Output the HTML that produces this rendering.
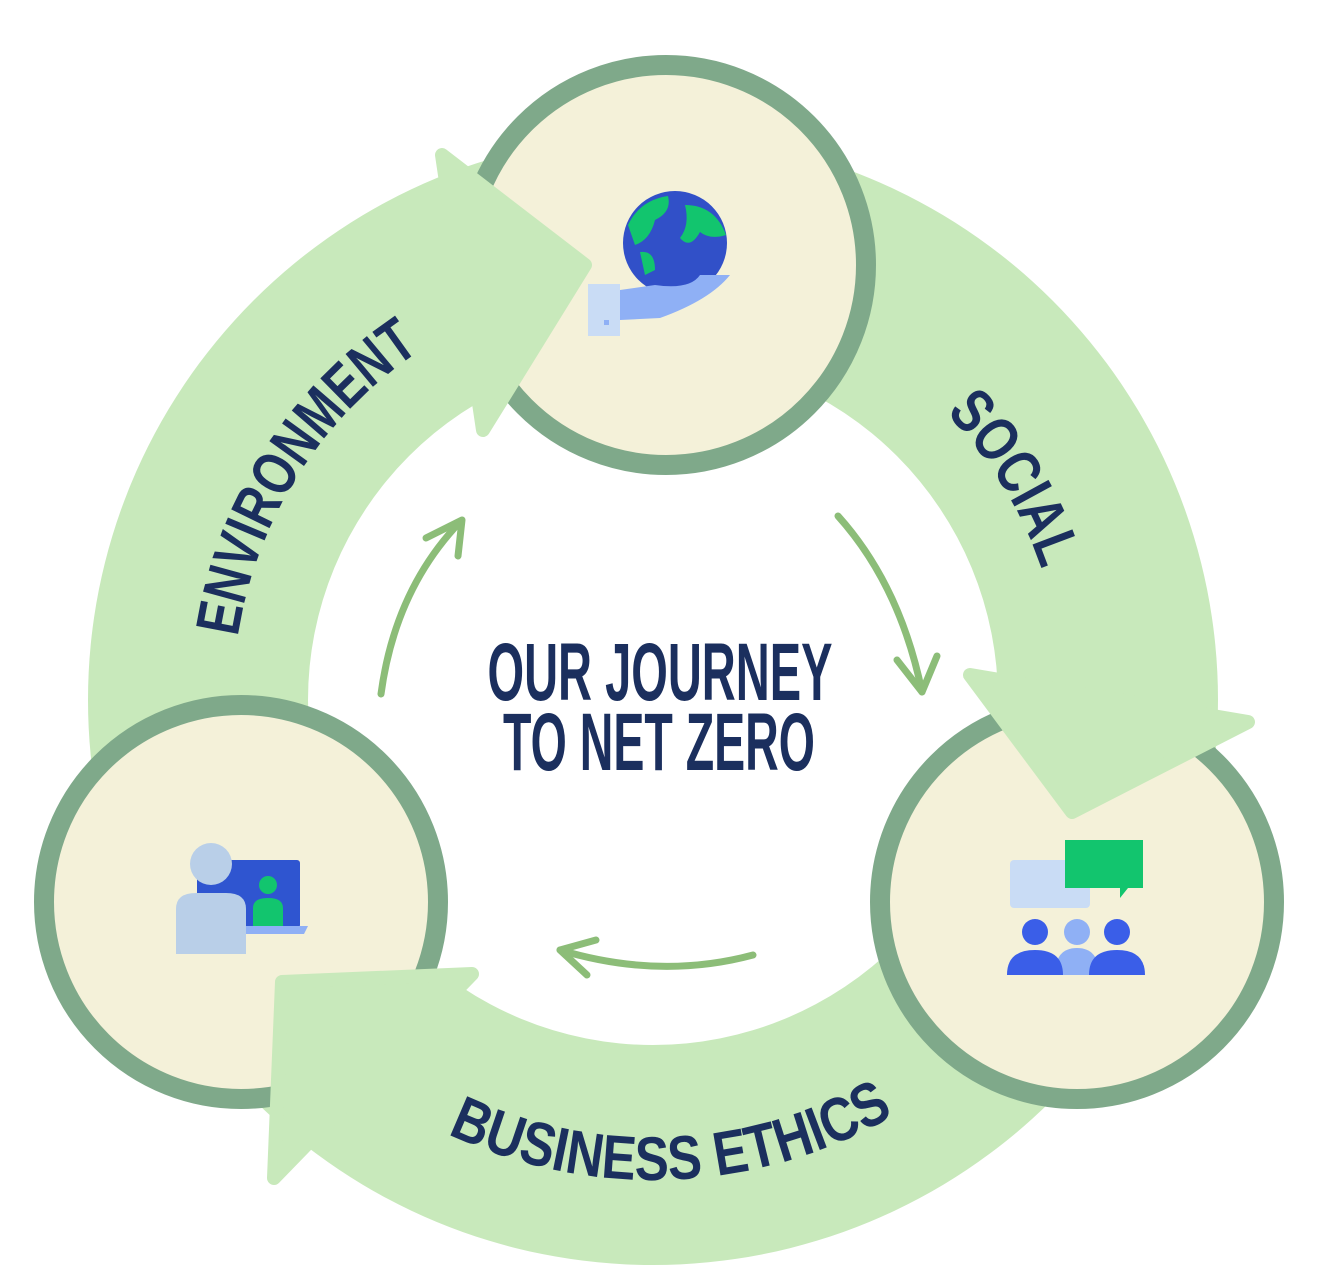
<!DOCTYPE html>
<html><head><meta charset="utf-8"><style>
html,body{margin:0;padding:0;background:#fff;}
svg{display:block;}
.lbl{font-family:"Liberation Sans Narrow","Liberation Sans",sans-serif;font-weight:bold;fill:#1b2f5e;}
</style></head><body>
<svg width="1342" height="1271" viewBox="0 0 1342 1271" xmlns="http://www.w3.org/2000/svg">
<defs>
<path id="envP" d="M289.3,910 A420,420 0 0 1 689.6,281.6"/>
<path id="socP" d="M653,290 A410,410 0 0 1 1018.3,886.1"/>
<path id="busP" d="M237.3,940 A480,480 0 0 0 1068.7,940"/>
</defs>
<path fill="#c8e9bb" fill-rule="evenodd" d="M88,700 A565,565 0 1 0 1218,700 A565,565 0 1 0 88,700 Z M308,700 A345,345 0 1 1 998,700 A345,345 0 1 1 308,700 Z"/>
<circle cx="666" cy="265" r="200" fill="#f4f1d9" stroke="#7fa98a" stroke-width="20"/>
<circle cx="241" cy="902" r="197" fill="#f4f1d9" stroke="#7fa98a" stroke-width="20"/>
<circle cx="1077" cy="902" r="197" fill="#f4f1d9" stroke="#7fa98a" stroke-width="20"/>
<g fill="#c8e9bb" stroke="#c8e9bb" stroke-width="14" stroke-linejoin="round">
<polygon points="442,155 585,265 483,430"/>
<polygon points="970,675 1248,722 1072,812"/>
<polygon points="282,982 472,974 274,1178"/>
</g>
<g fill="none" stroke="#8cbd78" stroke-width="7" stroke-linecap="round" stroke-linejoin="round">
<path d="M381,694 Q395,590 460,522"/>
<path d="M426,538 L462,520 L458,556"/>
<path d="M838,516 Q900,585 922,692"/>
<path d="M897,660 L922,692 L937,656"/>
<path d="M753,955 Q660,980 560,950"/>
<path d="M596,940 L560,950 L587,975"/>
</g>
<text class="lbl" font-size="62"><textPath href="#envP" startOffset="50%" text-anchor="middle" textLength="350" lengthAdjust="spacingAndGlyphs">ENVIRONMENT</textPath></text>
<text class="lbl" font-size="62"><textPath href="#socP" startOffset="50%" text-anchor="middle" textLength="185" lengthAdjust="spacingAndGlyphs">SOCIAL</textPath></text>
<text class="lbl" font-size="62"><textPath href="#busP" startOffset="52%" text-anchor="middle" textLength="465" lengthAdjust="spacingAndGlyphs">BUSINESS ETHICS</textPath></text>
<text class="lbl" x="660" y="700" font-size="82" text-anchor="middle" textLength="345" lengthAdjust="spacingAndGlyphs">OUR JOURNEY</text>
<text class="lbl" x="659" y="770" font-size="82" text-anchor="middle" textLength="312" lengthAdjust="spacingAndGlyphs">TO NET ZERO</text>
<circle cx="675" cy="243" r="52" fill="#3150c8"/>
<path d="M628,225 Q640,200 668,196 Q672,212 655,220 Q650,240 635,245 Z" fill="#12c56e"/>
<path d="M685,205 Q715,205 726,235 Q710,240 700,232 Q690,250 680,238 Q690,225 685,205 Z" fill="#12c56e"/>
<path d="M640,252 Q655,250 655,270 L645,275 Z" fill="#12c56e"/>
<path d="M620,290 L655,285 Q690,290 700,275 L730,275 Q710,300 660,318 L620,320 Z" fill="#8fb0f5"/>
<rect x="588" y="284" width="32" height="52" fill="#c9dcf5"/>
<rect x="604" y="320" width="5" height="5" fill="#8fb0f5"/>
<rect x="1010" y="860" width="80" height="48" rx="4" fill="#c9dcf5"/>
<path d="M1065,840 h78 v48 h-15 l-8,10 v-10 h-55 z" fill="#12c56e"/>
<circle cx="1077" cy="932" r="13" fill="#8fb0f5"/>
<path d="M1055,975 q0,-27 22,-27 q22,0 22,27 z" fill="#8fb0f5"/>
<circle cx="1035" cy="932" r="13" fill="#3a5ee8"/>
<path d="M1007,975 q0,-25 28,-25 q28,0 28,25 z" fill="#3a5ee8"/>
<circle cx="1117" cy="932" r="13" fill="#3a5ee8"/>
<path d="M1089,975 q0,-25 28,-25 q28,0 28,25 z" fill="#3a5ee8"/>
<rect x="197" y="860" width="103" height="68" rx="3" fill="#2f55d0"/>
<circle cx="268" cy="885" r="9" fill="#12c56e"/>
<path d="M253,926 v-18 q0,-10 15,-10 q15,0 15,10 v18 z" fill="#12c56e"/>
<path d="M240,926 h68 l-4,8 h-64 z" fill="#8fb0f5"/>
<circle cx="211" cy="864" r="21" fill="#b9cfe8"/>
<path d="M176,954 v-45 q0,-16 20,-16 h30 q20,0 20,16 v45 z" fill="#b9cfe8"/>
</svg>
</body></html>
